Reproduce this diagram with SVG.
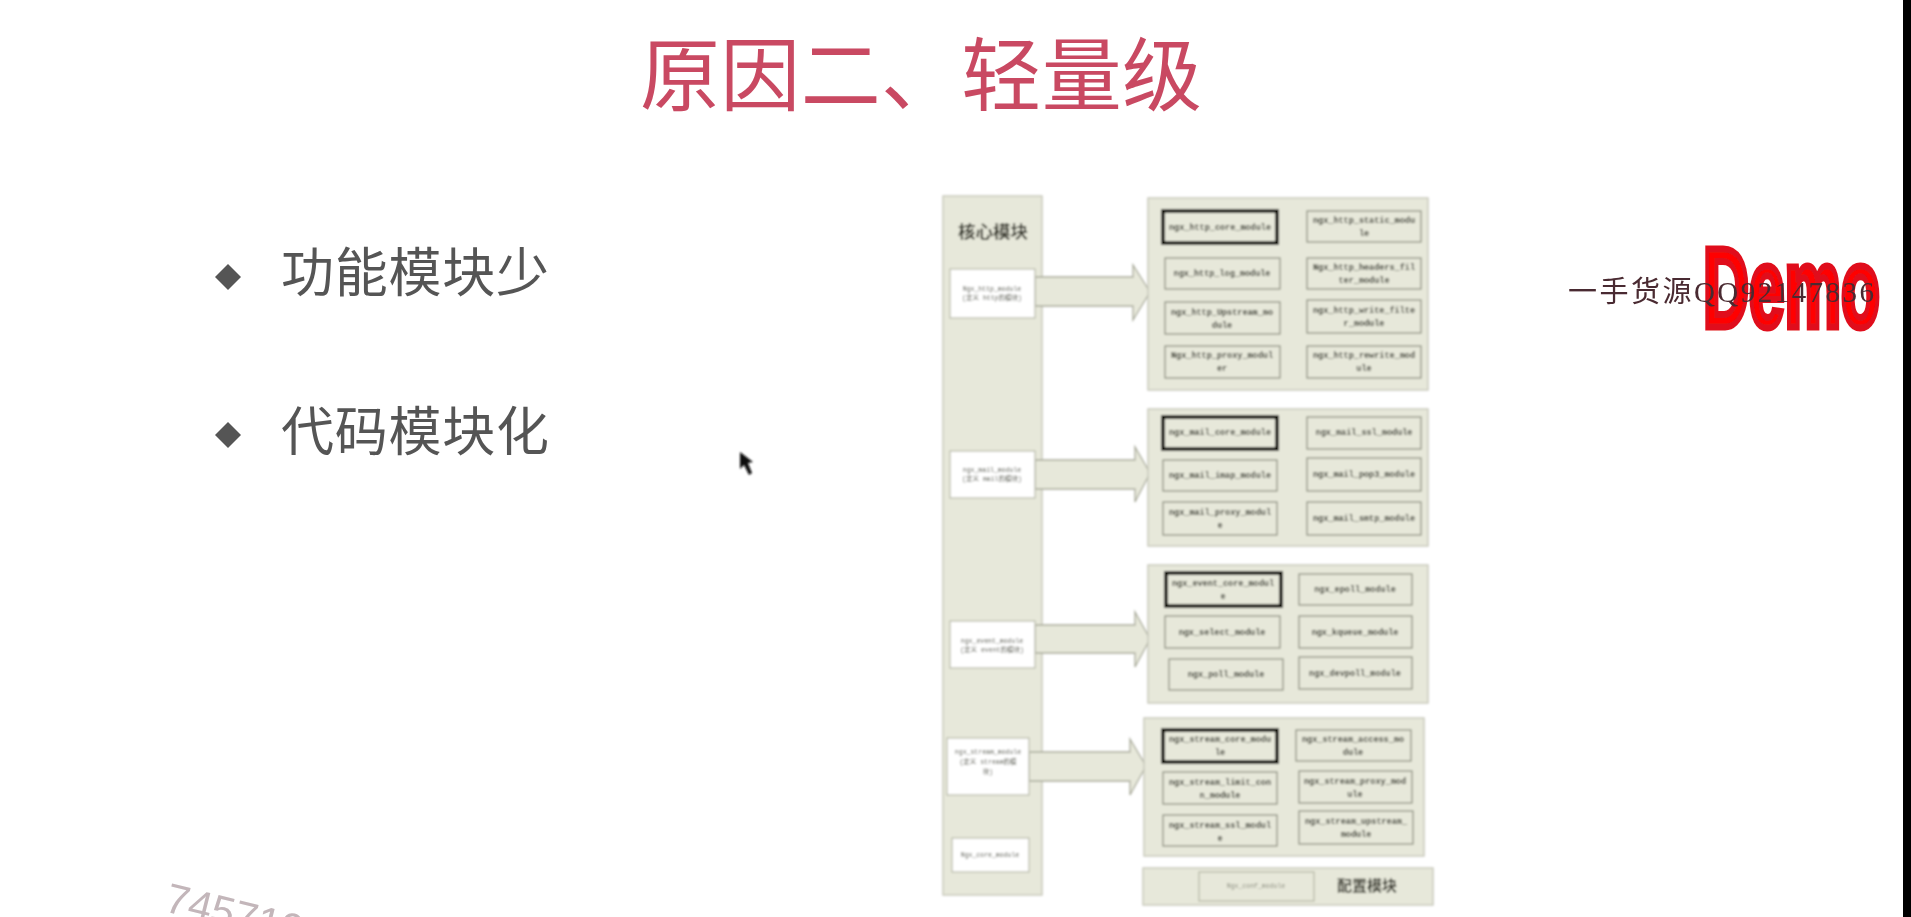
<svg xmlns="http://www.w3.org/2000/svg" width="1911" height="917" viewBox="0 0 1911 917">
<defs>
<filter id="b1" x="-5%" y="-5%" width="110%" height="110%"><feGaussianBlur stdDeviation="1"/></filter>
<filter id="b2" x="-5%" y="-5%" width="110%" height="110%"><feGaussianBlur stdDeviation="0.6"/></filter>
<filter id="b3" x="-20%" y="-20%" width="140%" height="140%"><feGaussianBlur stdDeviation="1.2"/></filter>
</defs>
<style>
.group{fill:#e7e8da;stroke:#c9cabd;stroke-width:1.5}
.box{fill:#e7e8da;stroke:#8f9182;stroke-width:1.3}
.core{fill:#e7e8da;stroke:#0c0c06;stroke-width:4}
.white{fill:#fff;stroke:#b8baa8;stroke-width:1.2}
.arrow{fill:#e7e8da;stroke:#a9ab9b;stroke-width:1.3}
.t{font-family:"Liberation Mono","Noto Sans CJK SC",monospace;font-size:8.5px;font-weight:700;fill:#3c3e34;text-anchor:middle}
.s{font-family:"Liberation Mono","Noto Sans CJK SC",monospace;font-size:6.5px;fill:#55574c;text-anchor:middle}
.h{font-family:"Noto Sans CJK SC",sans-serif;font-size:17.5px;font-weight:700;fill:#3c3d33;text-anchor:middle}
.b{font-family:"Noto Sans CJK SC",sans-serif;font-size:53px;font-weight:400;fill:#555}
</style>
<rect width="1911" height="917" fill="#fff"/>
<rect x="1903" y="0" width="8" height="917" fill="#000"/>
<g id="title" filter="url(#b2)"><text x="640" y="104" font-family="'Noto Sans CJK SC',sans-serif" font-size="80" font-weight="400" fill="#c94a62" textLength="562">原因二、轻量级</text></g>
<g id="bullets" filter="url(#b2)">
<polygon points="228,264 241,277 228,290 215,277" fill="#555"/>
<text class="b" x="281" y="292" textLength="268">功能模块少</text>
<polygon points="228,422 241,435 228,448 215,435" fill="#555"/>
<text class="b" x="281" y="451" textLength="268">代码模块化</text>
</g>
<g id="cursor" filter="url(#b3)"><polygon points="740,452 740,469 744,465 749,475 752,473 748,463 753,462" fill="#111"/></g>
<g filter="url(#b1)">
<g id="core-column"><rect class="group" x="943" y="196" width="99" height="699"/><text class="h" x="993" y="238">核心模块</text></g>
<g id="connectors">
<polygon class="arrow" points="1035,277 1133,277 1133,265 1150,292 1133,320 1133,306 1035,306"/>
<polygon class="arrow" points="1035,460 1135,460 1135,447 1150,473 1135,502 1135,489 1035,489"/>
<polygon class="arrow" points="1035,625 1135,625 1135,612 1150,639 1135,667 1135,653 1035,653"/>
<polygon class="arrow" points="1029,752 1130,752 1130,739 1146,766 1130,795 1130,781 1029,781"/>
</g>
<g id="ngx-http-module"><rect class="white" x="950" y="269" width="85" height="49"/><text class="s" x="992" y="291">Ngx_http_module</text><text class="s" x="992" y="300">(定义 http的模块)</text></g>
<g id="ngx-mail-module"><rect class="white" x="950" y="451" width="85" height="47"/><text class="s" x="992" y="472">ngx_mail_module</text><text class="s" x="992" y="481">(定义 mail的模块)</text></g>
<g id="ngx-event-module"><rect class="white" x="950" y="621" width="85" height="47"/><text class="s" x="992" y="643">ngx_event_module</text><text class="s" x="992" y="652">(定义 event的模块)</text></g>
<g id="ngx-stream-module"><rect class="white" x="947" y="738" width="82" height="57"/><text class="s" x="988" y="754">ngx_stream_module</text><text class="s" x="988" y="764">(定义 stream的模</text><text class="s" x="988" y="774">块)</text></g>
<g id="ngx-core-module"><rect class="white" x="952" y="838" width="77" height="34"/><text class="s" x="990" y="857">Ngx_core_module</text></g>

<g id="http-group"><rect class="group" x="1148" y="198" width="280" height="192"/></g>
<g id="http-core"><rect class="core" x="1163" y="211" width="114" height="32"/><text class="t" x="1220" y="230">ngx_http_core_module</text></g>
<g id="http-static"><rect class="box" x="1307" y="211" width="114" height="31"/><text class="t" x="1364" y="223">ngx_http_static_modu</text><text class="t" x="1364" y="236">le</text></g>
<g id="http-log"><rect class="box" x="1165" y="258" width="115" height="31"/><text class="t" x="1222" y="276">ngx_http_log_module</text></g>
<g id="http-headers"><rect class="box" x="1307" y="258" width="114" height="31"/><text class="t" x="1364" y="270">Ngx_http_headers_fil</text><text class="t" x="1364" y="283">ter_module</text></g>
<g id="http-upstream"><rect class="box" x="1165" y="302" width="115" height="32"/><text class="t" x="1222" y="315">ngx_http_Upstream_mo</text><text class="t" x="1222" y="328">dule</text></g>
<g id="http-write"><rect class="box" x="1307" y="300" width="114" height="33"/><text class="t" x="1364" y="313">ngx_http_write_filte</text><text class="t" x="1364" y="326">r_module</text></g>
<g id="http-proxy"><rect class="box" x="1165" y="346" width="115" height="32"/><text class="t" x="1222" y="358">Ngx_http_proxy_modul</text><text class="t" x="1222" y="371">er</text></g>
<g id="http-rewrite"><rect class="box" x="1307" y="346" width="114" height="32"/><text class="t" x="1364" y="358">ngx_http_rewrite_mod</text><text class="t" x="1364" y="371">ule</text></g>

<g id="mail-group"><rect class="group" x="1148" y="409" width="280" height="137"/></g>
<g id="mail-core"><rect class="core" x="1163" y="417" width="114" height="32"/><text class="t" x="1220" y="435">ngx_mail_core_module</text></g>
<g id="mail-ssl"><rect class="box" x="1307" y="417" width="114" height="32"/><text class="t" x="1364" y="435">ngx_mail_ssl_module</text></g>
<g id="mail-imap"><rect class="box" x="1163" y="460" width="114" height="31"/><text class="t" x="1220" y="478">ngx_mail_imap_module</text></g>
<g id="mail-pop3"><rect class="box" x="1307" y="458" width="114" height="33"/><text class="t" x="1364" y="477">ngx_mail_pop3_module</text></g>
<g id="mail-proxy"><rect class="box" x="1163" y="502" width="114" height="33"/><text class="t" x="1220" y="515">ngx_mail_proxy_modul</text><text class="t" x="1220" y="528">e</text></g>
<g id="mail-smtp"><rect class="box" x="1307" y="502" width="114" height="33"/><text class="t" x="1364" y="521">ngx_mail_smtp_module</text></g>

<g id="event-group"><rect class="group" x="1148" y="565" width="280" height="138"/></g>
<g id="event-core"><rect class="core" x="1166" y="573" width="115" height="33"/><text class="t" x="1223" y="586">ngx_event_core_modul</text><text class="t" x="1223" y="599">e</text></g>
<g id="event-epoll"><rect class="box" x="1299" y="574" width="113" height="31"/><text class="t" x="1355" y="592">ngx_epoll_module</text></g>
<g id="event-select"><rect class="box" x="1165" y="616" width="115" height="32"/><text class="t" x="1222" y="635">ngx_select_module</text></g>
<g id="event-kqueue"><rect class="box" x="1299" y="616" width="113" height="32"/><text class="t" x="1355" y="635">ngx_kqueue_module</text></g>
<g id="event-poll"><rect class="box" x="1169" y="659" width="114" height="31"/><text class="t" x="1226" y="677">ngx_poll_module</text></g>
<g id="event-dvepoll"><rect class="box" x="1299" y="657" width="113" height="32"/><text class="t" x="1355" y="676">ngx_devpoll_module</text></g>

<g id="stream-group"><rect class="group" x="1144" y="718" width="280" height="138"/></g>
<g id="stream-core"><rect class="core" x="1163" y="730" width="114" height="32"/><text class="t" x="1220" y="742">ngx_stream_core_modu</text><text class="t" x="1220" y="755">le</text></g>
<g id="stream-access"><rect class="box" x="1296" y="730" width="115" height="31"/><text class="t" x="1353" y="742">ngx_stream_access_mo</text><text class="t" x="1353" y="755">dule</text></g>
<g id="stream-limit"><rect class="box" x="1163" y="772" width="114" height="32"/><text class="t" x="1220" y="785">ngx_stream_limit_con</text><text class="t" x="1220" y="798">n_module</text></g>
<g id="stream-proxy"><rect class="box" x="1299" y="771" width="113" height="32"/><text class="t" x="1355" y="784">ngx_stream_proxy_mod</text><text class="t" x="1355" y="797">ule</text></g>
<g id="stream-ssl"><rect class="box" x="1163" y="815" width="114" height="31"/><text class="t" x="1220" y="828">ngx_stream_ssl_modul</text><text class="t" x="1220" y="841">e</text></g>
<g id="stream-upstream"><rect class="box" x="1299" y="811" width="114" height="33"/><text class="t" x="1356" y="824">ngx_stream_upstream_</text><text class="t" x="1356" y="837">module</text></g>

<g id="config-group"><rect class="group" x="1143" y="868" width="290" height="37"/><text class="h" x="1367" y="891" style="font-size:15px">配置模块</text></g>
<g id="ngx-conf-module"><rect class="box" x="1199" y="872" width="115" height="29" style="stroke:#b8baa8"/><text class="s" x="1256" y="888" style="fill:#8a8c7e">Ngx_conf_module</text></g>
</g>
<g id="watermark-demo" filter="url(#b2)">
<text x="1703" y="327" font-family="'Liberation Sans',sans-serif" font-size="114" font-weight="700" fill="#f00" stroke="#e0101a" stroke-width="7" textLength="177" lengthAdjust="spacingAndGlyphs">Demo</text>
<text x="1568" y="302" font-family="'Liberation Serif','Noto Sans CJK SC',serif" font-size="29" fill="#4a2a30" textLength="306" lengthAdjust="spacing">一手货源QQ92147836</text>
</g>
<g id="watermark-user" filter="url(#b2)"><text transform="translate(163,911) rotate(14)" font-family="'Liberation Sans',sans-serif" font-size="42" fill="#c3b6ba">745710</text></g>
</svg>
